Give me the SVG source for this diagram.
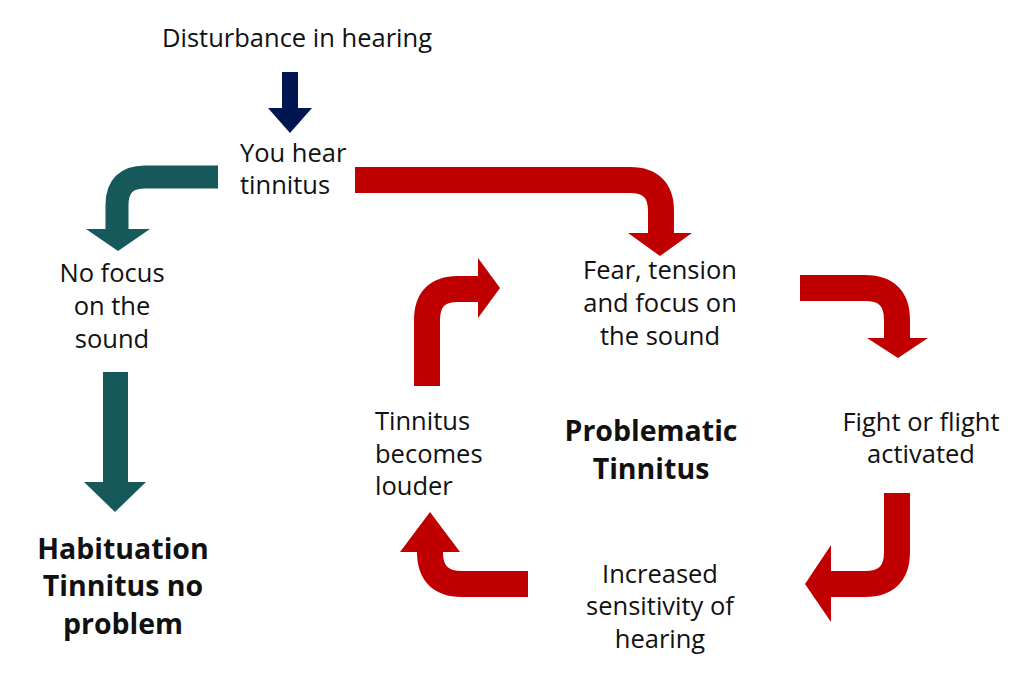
<svg xmlns="http://www.w3.org/2000/svg" width="1024" height="676" viewBox="0 0 1024 676">
<style>
text{font-family:"Open Sans","Liberation Sans",sans-serif;font-size:25.5px;fill:#111}
.b{font-weight:bold;font-size:28.5px}
.r{stroke:#C00000;fill:none;stroke-width:26}
.rh{fill:#C00000}
.t{stroke:#17585A;fill:none;stroke-width:23}
.th{fill:#17585A}
</style>
<rect width="1024" height="676" fill="#fff"/>
<g id="connectors">
<rect x="282" y="72" width="16" height="37" fill="#001651"/>
<polygon points="268,108 312,108 290,133" fill="#001651"/>
<path class="t" d="M218,177 H145 Q117,177 117,205 V230"/>
<polygon class="th" points="86,229 150,229 118,251"/>
<rect x="103" y="372" width="25" height="111" class="th"/>
<polygon class="th" points="84,482 146,482 115,512"/>
<path class="r" d="M355,180 H630 Q661,180 661,211 V234"/>
<polygon class="rh" points="628,233 692,233 660,256"/>
<path class="r" d="M800,288 H865 Q897,288 897,320 V340"/>
<polygon class="rh" points="867,338 928,338 898,358"/>
<path class="r" d="M897,493 V552 Q897,584 865,584 H828"/>
<polygon class="rh" points="831,545 831,622 805,584"/>
<path class="r" d="M528,584 H462 Q430,584 430,552 V550"/>
<polygon class="rh" points="400,552 460,552 430,512"/>
<path class="r" d="M427,386 V320 Q427,289 458,289 H480"/>
<polygon class="rh" points="478,258 478,318 500,288"/>
</g>
<g id="n1"><text x="297" y="47" text-anchor="middle">Disturbance in hearing</text></g>
<g id="n2"><text x="240" y="162">You hear</text><text x="240" y="194">tinnitus</text></g>
<g id="n3" text-anchor="middle"><text x="112" y="282">No focus</text><text x="112" y="315">on the</text><text x="112" y="348">sound</text></g>
<g id="n4" text-anchor="middle"><text class="b" x="123" y="559">Habituation</text><text class="b" x="123" y="596">Tinnitus no</text><text class="b" x="123" y="634">problem</text></g>
<g id="n5" text-anchor="middle"><text x="660" y="279">Fear, tension</text><text x="660" y="312">and focus on</text><text x="660" y="345">the sound</text></g>
<g id="n6" text-anchor="middle"><text x="921" y="431">Fight or flight</text><text x="921" y="463">activated</text></g>
<g id="n7" text-anchor="middle"><text x="660" y="583">Increased</text><text x="660" y="615">sensitivity of</text><text x="660" y="648">hearing</text></g>
<g id="n8"><text x="375" y="430">Tinnitus</text><text x="375" y="463">becomes</text><text x="375" y="495">louder</text></g>
<g id="n9" text-anchor="middle"><text class="b" x="651" y="441">Problematic</text><text class="b" x="651" y="479">Tinnitus</text></g>
</svg>
